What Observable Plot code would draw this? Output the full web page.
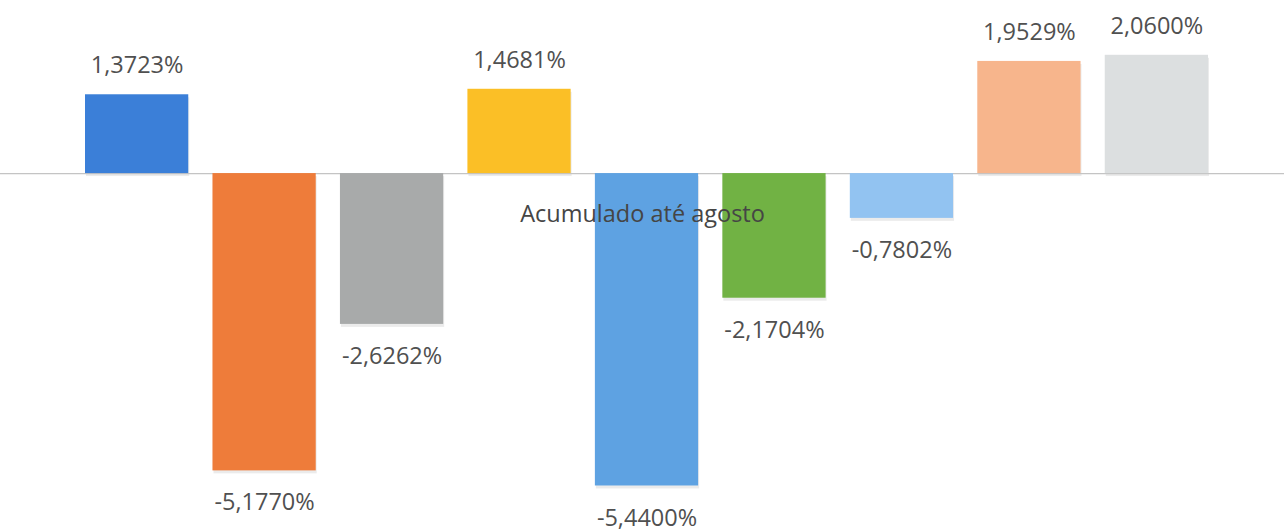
<!DOCTYPE html>
<html>
<head>
<meta charset="utf-8">
<script src="https://cdn.jsdelivr.net/npm/d3@7"></script>
<script src="https://cdn.jsdelivr.net/npm/@observablehq/plot@0.6"></script>
<style>
  html, body { margin: 0; padding: 0; background: #fff; }
  #chart svg { display: block; }
</style>
</head>
<body>
<div id="chart"></div>
<script>
const category = "Acumulado até agosto";
const series = ["S1", "S2", "S3", "S4", "S5", "S6", "S7", "S8", "S9"];
const values = [1.3723, -5.1770, -2.6262, 1.4681, -5.4400, -2.1704, -0.7802, 1.9529, 2.0600];
const colors = ["#3b7fd8", "#ee7c3a", "#a8aaaa", "#fbbf26", "#5ea2e2", "#71b244", "#92c3f1", "#f7b58c", "#dcdfe0"];

const data = series.map((s, i) => ({ series: s, value: values[i], color: colors[i] }));
const fmt = v => v.toFixed(4).replace(".", ",") + "%";

const chart = Plot.plot({
  width: 1284,
  height: 532,
  marginTop: 0, marginBottom: 0, marginLeft: 0, marginRight: 0,
  style: { background: "#fff", fontFamily: "'Open Sans', sans-serif" },
  x: { domain: series, range: [85, 1208], paddingInner: 0.19, paddingOuter: 0, round: false, axis: null },
  y: { domain: [-6.25, 3.014], axis: null },
  marks: [
    Plot.barY(data, { x: "series", y: "value", fill: "#000", fillOpacity: 0.08, dy: 3, dx: 1 }),
    Plot.ruleY([0], { stroke: "#c4c4c4", strokeWidth: 1.2 }),
    Plot.barY(data, { x: "series", y: "value", fill: "color" }),
    Plot.text(data.filter(d => d.value >= 0), {
      x: "series", y: "value", text: d => fmt(d.value), dy: -29,
      fontSize: 23.5, fill: "#505050"
    }),
    Plot.text(data.filter(d => d.value < 0), {
      x: "series", y: "value", text: d => fmt(d.value), dy: 32,
      fontSize: 23.5, fill: "#505050"
    }),
    Plot.text([category], {
      frameAnchor: "middle", y: () => 0, text: d => d, dy: 41,
      fontSize: 23.5, fill: "#454545"
    })
  ]
});
document.getElementById("chart").append(chart);
</script>
</body>
</html>
